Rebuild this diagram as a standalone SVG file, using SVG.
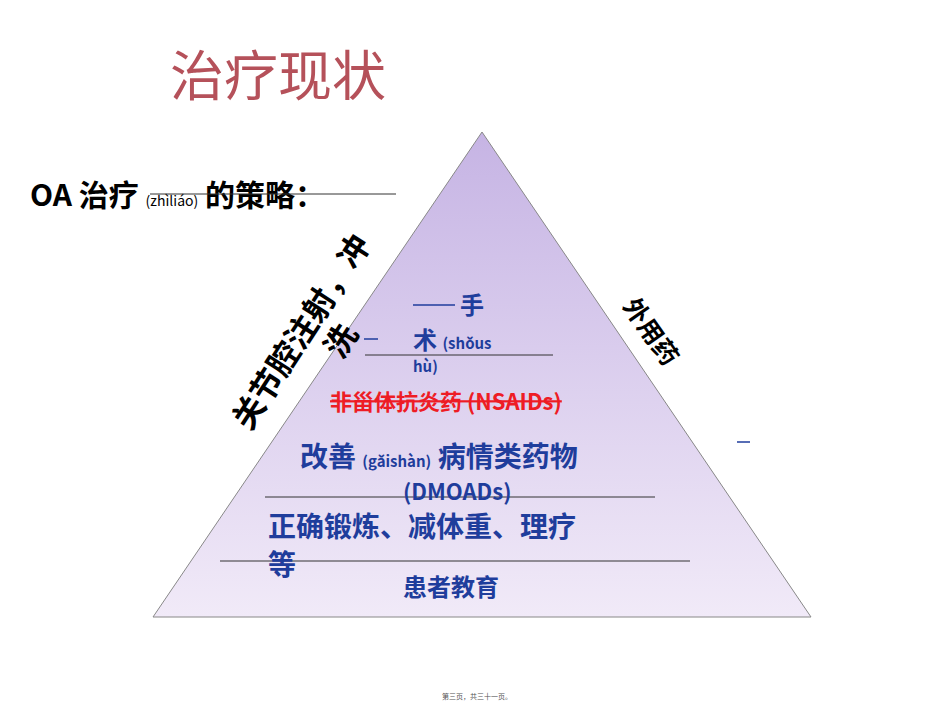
<svg xmlns="http://www.w3.org/2000/svg" width="950" height="712" viewBox="0 0 950 712">
<style>
.b{font-family:"Noto Sans CJK SC","Liberation Sans",sans-serif;font-weight:bold;fill:#1f3d9c}
.k{font-family:"Noto Sans CJK SC","Liberation Sans",sans-serif;font-weight:bold;fill:#000}
.ln{stroke:#333;stroke-width:1}
</style>
<defs><linearGradient id="g" x1="0" y1="0" x2="0" y2="1"><stop offset="0" stop-color="#c6b4e4"/><stop offset="1" stop-color="#f1eaf8"/></linearGradient></defs>
<rect width="950" height="712" fill="#fff"/>
<text x="170" y="96" font-family="Noto Sans CJK SC,sans-serif" font-size="54" fill="#b5515a">治疗现状</text>
<g id="pyramid"><polygon points="482,132 153,617 811,617" fill="url(#g)" stroke="#888" stroke-width="1"/></g>
<g id="title2"><text x="30" y="206" class="k" font-size="30">OA 治疗 <tspan font-size="14" font-weight="normal">(zhìliáo)</tspan> 的策略：</text></g>
<g id="connectors">
<line x1="150" y1="194" x2="396" y2="194" class="ln"/>
<line x1="365" y1="355" x2="553" y2="355" class="ln"/>
<line x1="265" y1="497" x2="655" y2="497" class="ln"/>
<line x1="220" y1="561" x2="690" y2="561" class="ln"/>
<line x1="413" y1="305" x2="455" y2="305" stroke="#1f3d9c" stroke-width="1.5"/>
<line x1="364" y1="339" x2="378" y2="339" stroke="#1f3d9c" stroke-width="1.5"/>
<line x1="737" y1="442" x2="750" y2="442" stroke="#1f3d9c" stroke-width="1.5"/>
</g>
<g id="inj"><text transform="translate(250,432) rotate(-57)" class="k" font-size="32">关节腔注射，冲<tspan x="110" dy="38">洗</tspan></text></g>
<g id="ext"><text transform="translate(622,306) rotate(55)" class="k" font-size="25">外用药</text></g>
<g id="surgery"><text x="460" y="314" class="b" font-size="24">手</text>
<text x="413" y="349" class="b" font-size="24">术 <tspan font-size="15">(shǒus</tspan></text>
<text x="413" y="372" class="b" font-size="15">hù)</text></g>
<g id="nsaid"><text x="330" y="410" font-family="Noto Sans CJK SC,sans-serif" font-weight="bold" font-size="22" fill="#ee1c25" text-decoration="line-through">非甾体抗炎药 (NSAIDs)</text></g>
<g id="dmoad"><text x="300" y="467" class="b" font-size="28">改善 <tspan font-size="15">(gǎishàn)</tspan> 病情类药物</text>
<text x="403" y="500" class="b" font-size="22">(DMOADs)</text></g>
<g id="exercise"><text x="268" y="537" class="b" font-size="28">正确锻炼、减体重、理疗</text>
<text x="268" y="575" class="b" font-size="28">等</text></g>
<g id="edu"><text x="403" y="596" class="b" font-size="24">患者教育</text></g>
<text x="442" y="699" font-family="Noto Sans CJK SC,sans-serif" font-size="7" fill="#555">第三页，共三十一页。</text>
</svg>
